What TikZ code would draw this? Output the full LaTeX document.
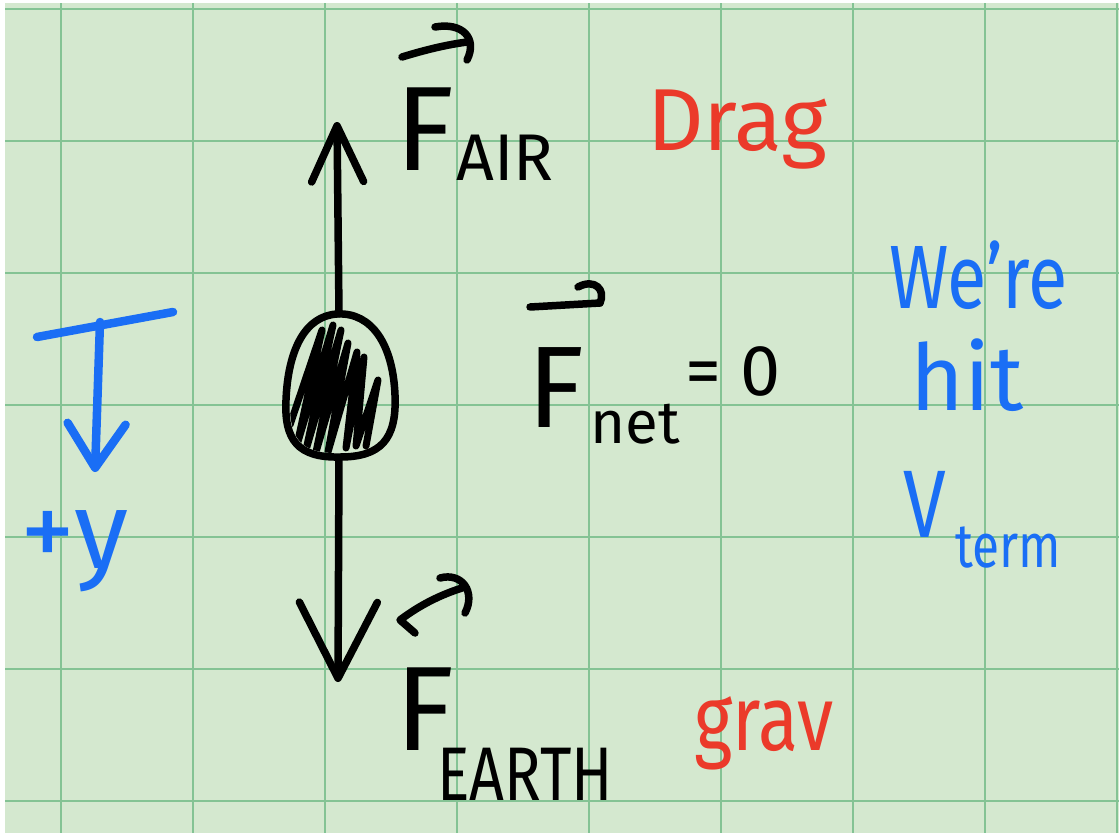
\documentclass[tikz,border=0pt]{standalone}
\usepackage{fontspec}
\newfontfamily\hand{Fira Sans}
\newfontfamily\handn{Fira Sans}[FakeStretch=0.8]
\usetikzlibrary{arrows.meta,shapes.geometric}
\definecolor{paper}{HTML}{D4E8CF}
\definecolor{gridline}{HTML}{84C394}
\definecolor{penblue}{HTML}{1A6EF5}
\definecolor{penred}{HTML}{EB3A2A}
\tikzset{
    inkline/.style={line width=7.5pt,line cap=round,line join=round},
    bluepen/.style={inkline,draw=penblue,line width=8.5pt},
    txt/.style={inner sep=0pt,anchor=base west},
}
\newcommand{\fs}[1]{\fontsize{#1}{#1}\selectfont}
\begin{document}
\begin{tikzpicture}[x=1pt,y=-1pt]
    \useasboundingbox (0,0) rectangle (1119,833);
    \fill[white] (0,0) rectangle (1119,833);
    \fill[paper] (5,3) rectangle (1119,833);

    % grid of the paper
    \foreach \x in {61,193,...,1117}{
        \draw[gridline,line width=2.2pt] (\x,3) -- (\x,833);
    }
    \foreach \y in {9,141,...,801}{
        \draw[gridline,line width=2.2pt] (5,\y) -- (1119,\y);
    }

    % the falling object
    \node[ellipse,minimum width=110pt,minimum height=144pt] (ball) at (339,386) {};
    \begin{scope}
        \clip (337,318) .. controls (370,316) and (390,348) .. (391,395)
            .. controls (393,438) and (378,453) .. (340,453)
            .. controls (300,454) and (289,438) .. (290,400)
            .. controls (292,352) and (307,320) .. (337,318) -- cycle;
        \draw[inkline,line width=7pt]
            (290,425) -- (322,330) -- (297,445) -- (333,325) -- (306,450)
            -- (341,330) -- (316,452) -- (348,343) -- (328,452)
            -- (357,352) -- (346,448) -- (364,357) -- (356,446)
            -- (378,380) -- (366,446);
    \end{scope}
    \draw[inkline] (337,314) .. controls (372,312) and (393,345) .. (395,395)
        .. controls (397,440) and (380,457) .. (340,457)
        .. controls (298,458) and (284,440) .. (286,400)
        .. controls (288,350) and (305,316) .. (337,314) -- cycle;

    \coordinate (airtip) at (337,122);
    \coordinate (earthtip) at (338,682);
    \draw[inkline,-{Straight Barb[length=56pt,width=52pt,round]}] (ball.north) -- (airtip);
    \draw[inkline,-{Straight Barb[length=76pt,width=78pt,round]}] (ball.south) -- (earthtip);

    % +y direction
    \coordinate (ybarl) at (37,337);
    \coordinate (ybarr) at (173,312);
    \coordinate (ytop) at (100,322);
    \coordinate (ytip) at (95,472);
    \draw[bluepen] (ybarl) -- (ybarr);
    \draw[bluepen,-{Straight Barb[length=44pt,width=58pt,round]}] (ytop) -- (ytip);
    \node[txt,text=penblue,font=\hand\fs{110}] (plusy) at (20,568) {+y};

    % forces
    \node[txt,font=\hand\fs{120}] (fair) at (395,170) {F};
    \node[txt,font=\hand\fs{66}] (fairsub) at (456,180) {AIR};
    \node[txt,text=penred,font=\hand\fs{88}] (drag) at (647,150) {Drag};
    \draw[inkline] (402,57) .. controls (425,50) and (445,45) .. (467,42);
    \draw[inkline] (435,27) .. controls (462,22) and (478,38) .. (467,60);

    \node[txt,font=\hand\fs{116}] (fnet) at (527,427) {F};
    \node[txt,font=\hand\fs{60}] (fnetsub) at (590,443) {net};
    \node[txt,font=\hand\fs{72}] (fnetval) at (685,395) {= 0};
    \draw[inkline] (530,307) -- (600,303);
    \draw[inkline] (578,287) .. controls (595,278) and (606,290) .. (600,303);

    \node[txt,font=\hand\fs{120}] (fearth) at (395,750) {F};
    \node[txt,font=\handn\fs{76}] (fearthsub) at (437,800) {EARTH};
    \node[txt,text=penred,font=\handn\fs{92}] (grav) at (694,750) {grav};
    \draw[inkline] (415,633) -- (400,620) .. controls (420,605) and (440,595) .. (462,588);
    \draw[inkline] (440,578) .. controls (462,572) and (476,592) .. (465,613);

    % note
    \node[txt,text=penblue,font=\handn\fs{90}] (were) at (889,308) {We’re};
    \node[txt,text=penblue,font=\hand\fs{92}] (hit) at (910,410) {hit};
    \node[txt,text=penblue,font=\handn\fs{96}] (vterm) at (903,537) {V};
    \node[txt,text=penblue,font=\handn\fs{62}] (vtermsub) at (955,567) {term};
\end{tikzpicture}
\end{document}
